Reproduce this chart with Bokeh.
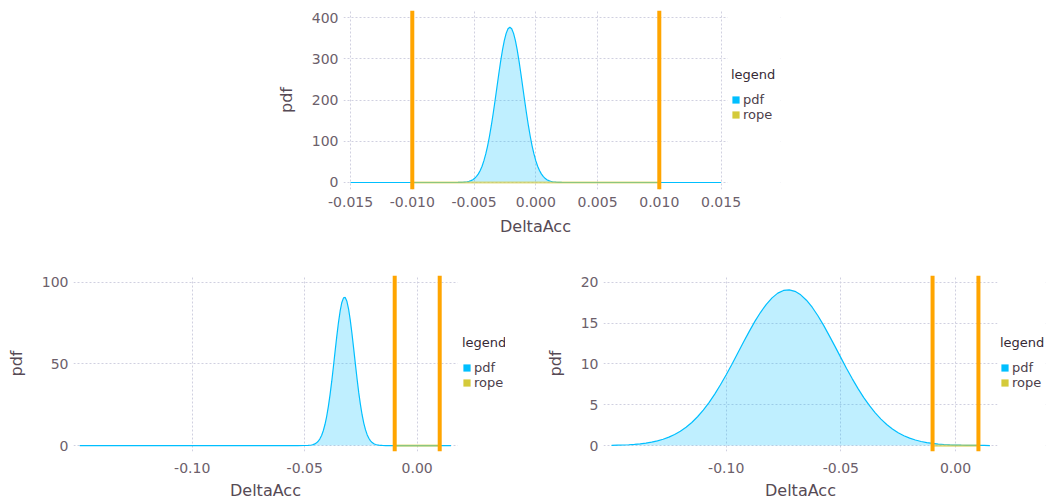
from bokeh.plotting import figure
from bokeh.layouts import column, row
from bokeh.models import (Span, Legend, LegendItem, FixedTicker, PrintfTickFormatter,
                          Spacer, Range1d, BoxAnnotation, Title)
from bokeh.embed import file_html
from bokeh.resources import INLINE

FONT = "DejaVu Sans"
PDF_COLOR = "#00BFFF"
ROPE_COLOR = "#D4CA3A"
BOUND_COLOR = "#FFA500"
TICK_COLOR = "#6c606b"
LABEL_COLOR = "#564a55"
GRID_COLOR = "#D0D0E0"

# region of practical equivalence
rope_bounds = [-0.01, 0.01]
rope_level = [0.0, 0.0]
legend_labels = ["pdf", "rope"]

# ---- panel 1 (top) ----
top_x = [-0.01500, -0.01000, -0.00750, -0.00660, -0.00630,
         -0.00600, -0.00585, -0.00570, -0.00555, -0.00540, -0.00525, -0.00510, -0.00495,
         -0.00480, -0.00465, -0.00450, -0.00435, -0.00420, -0.00405, -0.00390, -0.00375,
         -0.00360, -0.00345, -0.00330, -0.00315, -0.00300, -0.00285, -0.00270, -0.00255,
         -0.00240, -0.00225, -0.00210, -0.00195, -0.00180, -0.00165, -0.00150, -0.00135,
         -0.00120, -0.00105, -0.00090, -0.00075, -0.00060, -0.00045, -0.00030, -0.00015,
         0.00000, 0.00015, 0.00030, 0.00045, 0.00060, 0.00075, 0.00090, 0.00105,
         0.00120, 0.00135, 0.00150, 0.00165, 0.00180,
         0.00210, 0.00240, 0.00350, 0.00500, 0.01000, 0.01500]
top_pdf = [0.0, 0.0, 0.0, 0.05, 0.15,
           0.43, 0.72, 1.18, 1.89, 2.96, 4.56, 6.87, 10.2,
           14.7, 20.9, 29.1, 39.6, 53.0, 69.4, 89.2, 112.3,
           138.5, 167.5, 198.6, 230.8, 262.9, 293.5, 321.2, 344.5,
           362.2, 373.2, 377.0, 373.2, 362.2, 344.5, 321.2, 293.5,
           262.9, 230.8, 198.6, 167.5, 138.5, 112.3, 89.2, 69.4,
           53.0, 39.6, 29.1, 20.9, 14.7, 10.2, 6.87, 4.56,
           2.96, 1.89, 1.18, 0.72, 0.43,
           0.15, 0.05, 0.0, 0.0, 0.0, 0.0]
top_xticks = [-0.015, -0.010, -0.005, 0.0, 0.005, 0.010, 0.015]
top_yticks = [0, 100, 200, 300, 400]

# ---- panel 2 (bottom left) ----
bl_x = [-0.15000, -0.10000, -0.06000, -0.05300,
        -0.05000, -0.04925, -0.04850, -0.04775, -0.04700, -0.04625, -0.04550, -0.04475,
        -0.04400, -0.04325, -0.04250, -0.04175, -0.04100, -0.04025, -0.03950, -0.03875,
        -0.03800, -0.03725, -0.03650, -0.03575, -0.03500, -0.03425, -0.03350, -0.03275,
        -0.03200, -0.03125, -0.03050, -0.02975, -0.02900, -0.02825, -0.02750, -0.02675,
        -0.02600, -0.02525, -0.02450, -0.02375, -0.02300, -0.02225, -0.02150, -0.02075,
        -0.02000, -0.01925, -0.01850, -0.01775, -0.01700, -0.01625, -0.01550,
        -0.01400, -0.01200, -0.01000, 0.00000, 0.01500]
bl_pdf = [0.0, 0.0, 0.0, 0.0,
          0.03, 0.05, 0.10, 0.19, 0.34, 0.60, 1.01, 1.66,
          2.65, 4.12, 6.20, 9.07, 12.9, 17.8, 23.9, 31.1,
          39.3, 48.3, 57.7, 66.9, 75.4, 82.5, 87.7, 90.5,
          90.8, 88.4, 83.7, 76.9, 68.7, 59.6, 50.2, 41.1,
          32.6, 25.2, 18.9, 13.8, 9.75, 6.70, 4.47, 2.90,
          1.83, 1.12, 0.66, 0.38, 0.22, 0.12, 0.06,
          0.02, 0.0, 0.0, 0.0, 0.0]
bl_xticks = [-0.10, -0.05, 0.0]
bl_yticks = [0, 50, 100]

# ---- panel 3 (bottom right) ----
br_x = [-0.1500, -0.1475, -0.1450, -0.1425, -0.1400, -0.1375, -0.1350, -0.1325, -0.1300,
        -0.1275, -0.1250, -0.1225, -0.1200, -0.1175, -0.1150, -0.1125, -0.1100, -0.1075,
        -0.1050, -0.1025, -0.1000, -0.0975, -0.0950, -0.0925, -0.0900, -0.0875, -0.0850,
        -0.0825, -0.0800, -0.0775, -0.0750, -0.0725, -0.0700, -0.0675, -0.0650, -0.0625,
        -0.0600, -0.0575, -0.0550, -0.0525, -0.0500, -0.0475, -0.0450, -0.0425, -0.0400,
        -0.0375, -0.0350, -0.0325, -0.0300, -0.0275, -0.0250, -0.0225, -0.0200, -0.0175,
        -0.0150, -0.0125, -0.0100, -0.0075, -0.0050, -0.0025, 0.0000, 0.0025, 0.0050,
        0.0075, 0.0100, 0.0125, 0.0150]
br_pdf = [0.03, 0.05, 0.07, 0.10, 0.15, 0.21, 0.30, 0.41, 0.57,
          0.77, 1.03, 1.35, 1.75, 2.24, 2.83, 3.53, 4.34, 5.27,
          6.31, 7.45, 8.68, 9.97, 11.32, 12.66, 13.97, 15.22, 16.34,
          17.32, 18.11, 18.69, 19.02, 19.09, 18.91, 18.48, 17.82, 16.96,
          15.91, 14.73, 13.45, 12.13, 10.78, 9.45, 8.18, 6.98, 5.88,
          4.89, 4.01, 3.24, 2.58, 2.04, 1.58, 1.21, 0.91, 0.68,
          0.50, 0.36, 0.26, 0.18, 0.13, 0.09, 0.06, 0.04, 0.03,
          0.02, 0.01, 0.01, 0.00]
br_xticks = [-0.10, -0.05, 0.0]
br_yticks = [0, 5, 10, 15, 20]

XLABEL = "DeltaAcc"
XLABEL_W = 71  # approx. rendered width of the x title at 16px


def make_panel(xs, ys, x_start, px_per_unit, panel_w, frame_w, y_range, xticks, yticks,
               xfmt, frame_h, bl, br, bt, bb, legend_x, legend_y, tick_standoff,
               title_standoff):
    # the frame holds the data panel plus a key area on its right
    x_end = x_start + frame_w / px_per_unit
    panel_end = x_start + panel_w / px_per_unit
    p = figure(width=bl + frame_w + br, height=bt + frame_h + bb,
               x_range=Range1d(x_start, x_end), y_range=Range1d(*y_range),
               output_backend="svg", toolbar_location=None,
               min_border_left=bl, min_border_right=br,
               min_border_top=bt, min_border_bottom=bb)
    p.outline_line_color = None

    p.varea(x=xs, y1=[0.0] * len(xs), y2=ys, fill_color=PDF_COLOR, fill_alpha=0.25)
    p.line(xs, ys, line_color=PDF_COLOR, line_width=1.2)
    p.line(rope_bounds, rope_level, line_color=ROPE_COLOR, line_alpha=0.65, line_width=2.2)
    for b in rope_bounds:
        p.add_layout(Span(location=b, dimension="height", line_color=BOUND_COLOR,
                          line_width=4))

    # blank the key area (hides grid lines there)
    p.add_layout(BoxAnnotation(left=panel_end, fill_color="white", fill_alpha=1.0,
                               line_alpha=0.0))

    # zero-size proxies (anchored on the data) used only as legend keys
    d_pdf = p.quad(left=xs[:1], right=xs[:1], top=rope_level[:1], bottom=rope_level[:1],
                   fill_color=PDF_COLOR, line_color=None)
    d_rope = p.quad(left=rope_bounds[:1], right=rope_bounds[:1], top=rope_level[:1],
                    bottom=rope_level[:1], fill_color=ROPE_COLOR, line_color=None)
    legend = Legend(items=[LegendItem(label=legend_labels[0], renderers=[d_pdf]),
                           LegendItem(label=legend_labels[1], renderers=[d_rope])],
                    location=(legend_x, legend_y), title="legend")
    legend.title_text_font = FONT
    legend.title_text_font_size = "13px"
    legend.title_text_font_style = "normal"
    legend.title_text_color = "#362a35"
    legend.title_standoff = 10
    legend.label_text_font = FONT
    legend.label_text_font_size = "13px"
    legend.label_text_color = "#4c404b"
    legend.glyph_width = 9
    legend.glyph_height = 9
    legend.label_height = 15
    legend.label_standoff = 3
    legend.spacing = 0
    legend.padding = 0
    legend.margin = 0
    legend.border_line_color = None
    legend.background_fill_alpha = 0
    p.add_layout(legend)

    p.xaxis.ticker = FixedTicker(ticks=xticks)
    p.xaxis.formatter = PrintfTickFormatter(format=xfmt)
    p.yaxis.ticker = FixedTicker(ticks=yticks)
    p.yaxis.formatter = PrintfTickFormatter(format="%d")
    for ax in (p.xaxis, p.yaxis):
        ax.axis_line_color = None
        ax.major_tick_line_color = None
        ax.minor_tick_line_color = None
        ax.major_tick_in = 0
        ax.major_tick_out = 0
        ax.major_label_text_font = FONT
        ax.major_label_text_font_size = "14px"
        ax.major_label_text_color = TICK_COLOR
        ax.axis_label_text_font = FONT
        ax.axis_label_text_font_size = "16px"
        ax.axis_label_text_font_style = "normal"
        ax.axis_label_text_color = LABEL_COLOR
    p.yaxis.axis_label = "pdf"
    p.xaxis.major_label_standoff = tick_standoff
    p.yaxis.major_label_standoff = 5
    p.yaxis.axis_label_standoff = 13

    # x-axis title centred under the data panel, not under the key area
    xt = Title(text=XLABEL, align="left", offset=(panel_w - XLABEL_W) / 2,
               text_font=FONT, text_font_size="16px", text_font_style="normal",
               text_color=LABEL_COLOR, standoff=title_standoff)
    p.add_layout(xt, "below")

    for g in (p.xgrid, p.ygrid):
        g.grid_line_color = GRID_COLOR
        g.grid_line_dash = "2 2"
        g.grid_line_width = 1
    return p


p1 = make_panel(top_x, top_pdf, -0.01557, 12350.0, 384, 437, (-17.0, 417.7),
                top_xticks, top_yticks, "%.3f", 179, 83, 10, 10, 71, 388, 67, 7, 11)
p2 = make_panel(bl_x, bl_pdf, -0.15276, 2250.0, 384, 432, (-3.64, 104.24),
                bl_xticks, bl_yticks, "%.2f", 178, 73, 15, 15, 49, 389, 61, 11, 6)
p3 = make_panel(br_x, br_pdf, -0.15351, 2293.0, 394, 442, (-0.73, 20.85),
                br_xticks, br_yticks, "%.2f", 178, 83, 2, 15, 49, 397, 61, 11, 6)

layout = column(row(Spacer(width=260, height=260), p1), row(p2, p3))

open("out.html", "w").write(file_html(layout, INLINE))
